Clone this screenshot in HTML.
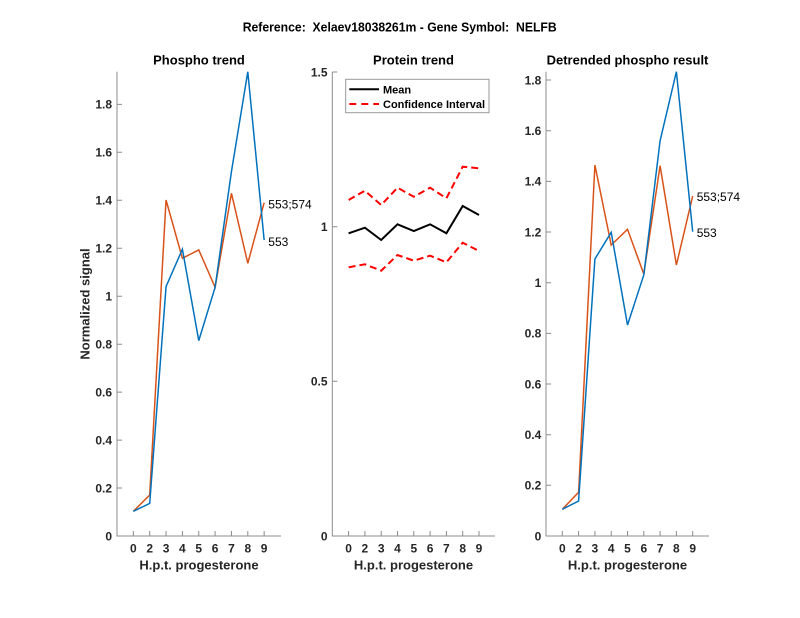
<!DOCTYPE html>
<html>
<head>
<meta charset="utf-8">
<style>
  html, body { margin:0; padding:0; background:#fff; }
  svg { display:block; }
  text { font-family: "Liberation Sans", "DejaVu Sans", sans-serif; fill:#262626; }
  .tk { font-size:12px; font-weight:bold; }
  .ttl { font-size:13px; font-weight:bold; fill:#000; }
  .lab { font-size:13px; font-weight:bold; }
  .dl { font-size:12px; fill:#000; }
  .ax { stroke:#8c8c8c; stroke-width:1; fill:none; }
</style>
</head>
<body>
<svg width="800" height="618" viewBox="0 0 800 618" xmlns="http://www.w3.org/2000/svg">
  <rect width="800" height="618" fill="#fff"/>

  <!-- Main title -->
  <text class="ttl" x="242.7" y="31.4" xml:space="preserve" style="white-space:pre" textLength="314" lengthAdjust="spacingAndGlyphs">Reference:  Xelaev18038261m - Gene Symbol:  NELFB</text>

  <!-- ================= LEFT PANEL ================= -->
  <text class="ttl" x="199" y="64.7" text-anchor="middle">Phospho trend</text>
  <path class="ax" d="M117,71.7 V536 H281"/>
  <g class="ax">
    <path d="M117,536 h5 M117,488 h5 M117,440.1 h5 M117,392.1 h5 M117,344.2 h5 M117,296.2 h5 M117,248.2 h5 M117,200.3 h5 M117,152.3 h5 M117,104.4 h5"/>
    <path d="M133.35,536 v-5 M149.7,536 v-5 M166.05,536 v-5 M182.4,536 v-5 M198.75,536 v-5 M215.1,536 v-5 M231.45,536 v-5 M247.8,536 v-5 M264.15,536 v-5"/>
  </g>
  <g class="tk" text-anchor="end">
    <text x="112" y="540.3">0</text>
    <text x="112" y="492.3">0.2</text>
    <text x="112" y="444.4">0.4</text>
    <text x="112" y="396.4">0.6</text>
    <text x="112" y="348.5">0.8</text>
    <text x="112" y="300.5">1</text>
    <text x="112" y="252.5">1.2</text>
    <text x="112" y="204.6">1.4</text>
    <text x="112" y="156.6">1.6</text>
    <text x="112" y="108.7">1.8</text>
  </g>
  <g class="tk" text-anchor="middle">
    <text x="133.35" y="552.3">0</text>
    <text x="149.7" y="552.3">2</text>
    <text x="166.05" y="552.3">3</text>
    <text x="182.4" y="552.3">4</text>
    <text x="198.75" y="552.3">5</text>
    <text x="215.1" y="552.3">6</text>
    <text x="231.45" y="552.3">7</text>
    <text x="247.8" y="552.3">8</text>
    <text x="264.15" y="552.3">9</text>
  </g>
  <text class="lab" x="199" y="569.7" text-anchor="middle">H.p.t. progesterone</text>
  <text class="lab" transform="translate(89.7,304) rotate(-90)" text-anchor="middle">Normalized signal</text>
  <polyline fill="none" stroke="#D95319" stroke-width="1.5" stroke-linejoin="miter"
    points="133.35,511.3 149.7,495 166.05,200 182.4,258.3 198.75,249.9 215.1,287.3 231.45,193.3 247.8,263.3 264.15,202.7"/>
  <polyline fill="none" stroke="#0072BD" stroke-width="1.5" stroke-linejoin="miter"
    points="133.35,511.3 149.7,503.4 166.05,286.6 182.4,249.2 198.75,340.6 215.1,287.3 231.45,171.5 247.8,71.8 264.15,240.1"/>
  <text class="dl" x="268.3" y="208.3">553;574</text>
  <text class="dl" x="268.3" y="246">553</text>

  <!-- ================= MIDDLE PANEL ================= -->
  <text class="ttl" x="413.5" y="64.7" text-anchor="middle">Protein trend</text>
  <path class="ax" d="M332.3,72 V536 H495"/>
  <g class="ax">
    <path d="M332.3,536 h5 M332.3,381.3 h5 M332.3,226.7 h5 M332.3,72 h5"/>
    <path d="M348.6,536 v-5 M364.9,536 v-5 M381.2,536 v-5 M397.5,536 v-5 M413.8,536 v-5 M430.1,536 v-5 M446.4,536 v-5 M462.7,536 v-5 M479,536 v-5"/>
  </g>
  <g class="tk" text-anchor="end">
    <text x="327.5" y="540.3">0</text>
    <text x="327.5" y="385.6">0.5</text>
    <text x="327.5" y="231">1</text>
    <text x="327.5" y="76.3">1.5</text>
  </g>
  <g class="tk" text-anchor="middle">
    <text x="348.6" y="552.3">0</text>
    <text x="364.9" y="552.3">2</text>
    <text x="381.2" y="552.3">3</text>
    <text x="397.5" y="552.3">4</text>
    <text x="413.8" y="552.3">5</text>
    <text x="430.1" y="552.3">6</text>
    <text x="446.4" y="552.3">7</text>
    <text x="462.7" y="552.3">8</text>
    <text x="479" y="552.3">9</text>
  </g>
  <text class="lab" x="413.5" y="569.7" text-anchor="middle">H.p.t. progesterone</text>
  <polyline fill="none" stroke="#ff0000" stroke-width="2" stroke-dasharray="7,4"
    points="348.6,200 364.9,190.7 381.2,205 397.5,187.7 413.8,196.7 430.1,187.7 446.4,198.3 462.7,166.7 479,168.3"/>
  <polyline fill="none" stroke="#ff0000" stroke-width="2" stroke-dasharray="7,4"
    points="348.6,267.3 364.9,264.3 381.2,270.7 397.5,255 413.8,260.7 430.1,255.7 446.4,262.3 462.7,242.7 479,251"/>
  <polyline fill="none" stroke="#000" stroke-width="2"
    points="348.6,233.3 364.9,227.7 381.2,240 397.5,224.3 413.8,231 430.1,224.3 446.4,233.3 462.7,206 479,215"/>
  <rect x="345.7" y="79.3" width="143.3" height="33.4" fill="#fff" stroke="#999" stroke-width="1"/>
  <line x1="349.3" y1="89.3" x2="379" y2="89.3" stroke="#000" stroke-width="2"/>
  <line x1="349.3" y1="104" x2="379" y2="104" stroke="#ff0000" stroke-width="2" stroke-dasharray="7,5"/>
  <text x="383" y="93.3" style="font-size:11px;font-weight:bold;fill:#000">Mean</text>
  <text x="383" y="108" style="font-size:11px;font-weight:bold;fill:#000">Confidence Interval</text>

  <!-- ================= RIGHT PANEL ================= -->
  <text class="ttl" x="627.5" y="64.7" text-anchor="middle">Detrended phospho result</text>
  <path class="ax" d="M546,71.7 V536 H709"/>
  <g class="ax">
    <path d="M546,536 h5 M546,485.3 h5 M546,434.7 h5 M546,384 h5 M546,333.4 h5 M546,282.7 h5 M546,232 h5 M546,181.4 h5 M546,130.7 h5 M546,80 h5"/>
    <path d="M562.3,536 v-5 M578.6,536 v-5 M594.9,536 v-5 M611.2,536 v-5 M627.5,536 v-5 M643.8,536 v-5 M660.1,536 v-5 M676.4,536 v-5 M692.7,536 v-5"/>
  </g>
  <g class="tk" text-anchor="end">
    <text x="541.3" y="540.3">0</text>
    <text x="541.3" y="489.6">0.2</text>
    <text x="541.3" y="439">0.4</text>
    <text x="541.3" y="388.3">0.6</text>
    <text x="541.3" y="337.7">0.8</text>
    <text x="541.3" y="287">1</text>
    <text x="541.3" y="236.3">1.2</text>
    <text x="541.3" y="185.7">1.4</text>
    <text x="541.3" y="135">1.6</text>
    <text x="541.3" y="84.3">1.8</text>
  </g>
  <g class="tk" text-anchor="middle">
    <text x="562.3" y="552.3">0</text>
    <text x="578.6" y="552.3">2</text>
    <text x="594.9" y="552.3">3</text>
    <text x="611.2" y="552.3">4</text>
    <text x="627.5" y="552.3">5</text>
    <text x="643.8" y="552.3">6</text>
    <text x="660.1" y="552.3">7</text>
    <text x="676.4" y="552.3">8</text>
    <text x="692.7" y="552.3">9</text>
  </g>
  <text class="lab" x="627.5" y="569.7" text-anchor="middle">H.p.t. progesterone</text>
  <polyline fill="none" stroke="#D95319" stroke-width="1.5"
    points="562.3,509.3 578.6,492.3 594.9,165 611.2,245 627.5,229.3 643.8,274 660.1,165.7 676.4,265 692.7,196"/>
  <polyline fill="none" stroke="#0072BD" stroke-width="1.5"
    points="562.3,509.3 578.6,501 594.9,259 611.2,232.3 627.5,325 643.8,275 660.1,140.7 676.4,71.7 692.7,231.7"/>
  <text class="dl" x="696.7" y="201">553;574</text>
  <text class="dl" x="696.7" y="237">553</text>
</svg>
</body>
</html>
